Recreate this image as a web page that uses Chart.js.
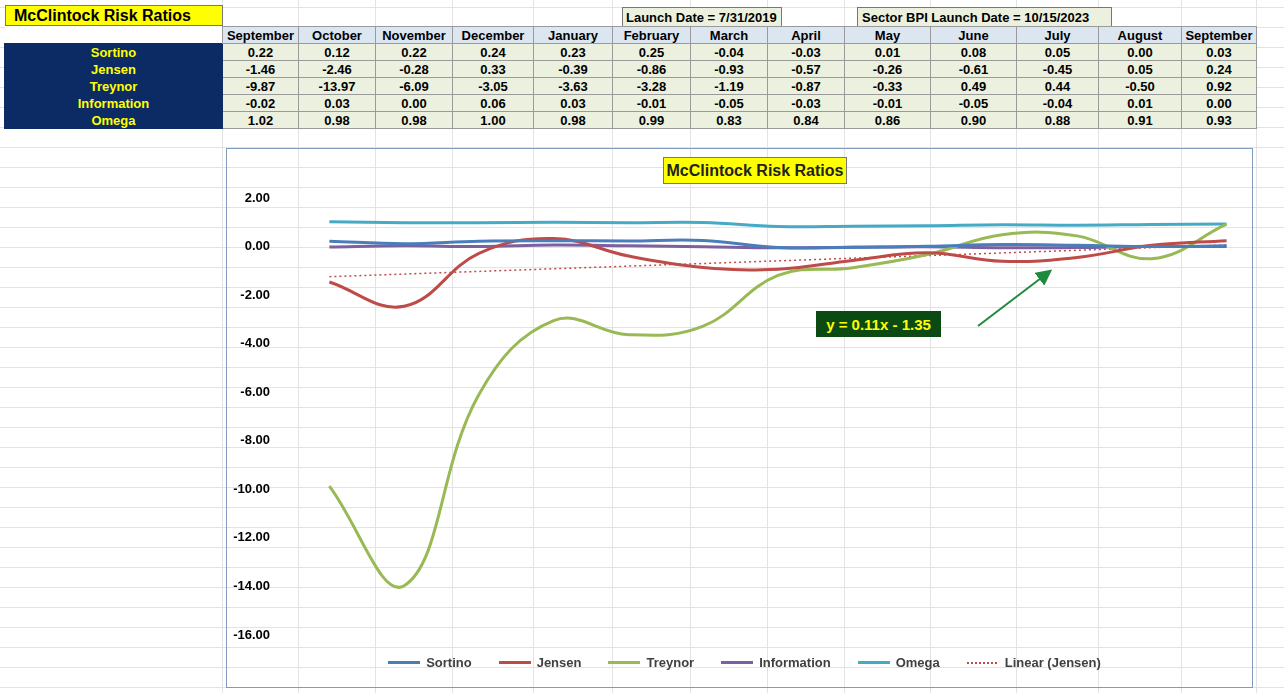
<!DOCTYPE html>
<html><head><meta charset="utf-8">
<script src="https://cdn.jsdelivr.net/npm/chart.js@4"></script>
<style>
body{margin:0;width:1284px;height:693px;position:relative;font-family:Arial,"Liberation Sans",sans-serif;overflow:hidden;
background-color:#fff;
background-image:linear-gradient(#e3e3e3 1px,transparent 1px);background-size:100% 20px;background-position:0 7px;}
.vl{position:absolute;top:0;height:693px;width:1px;background:#e3e3e3}
table{position:absolute;left:4px;top:26px;border-collapse:collapse;font-size:13px;font-weight:bold;table-layout:fixed}
td{border:1px solid #9a9a9a;height:16px;padding:0;text-align:center;background:#ebf1de;color:#000;overflow:hidden;white-space:nowrap}
td.lab{background:#0c2a63;color:#ffff00;border-color:#0c2a63}
tr.h td{background:#dce6f1}
tr.h td.blank{background:#fff;border:none}
.box{position:absolute;font-weight:bold;font-size:13px;border:1px solid #777;display:flex;align-items:center}
#wrap{position:absolute;left:226px;top:148px;width:1025px;height:538px;border:1px solid #7f9bc0}
#legend{position:absolute;left:0;top:506px;width:1025px;display:flex;justify-content:center;gap:27px;font-size:13px;font-weight:bold;color:#404040;padding-left:10px;box-sizing:border-box}
#legend span{display:flex;align-items:center;gap:6px}
#legend i{display:inline-block;width:32px;height:3px}
</style></head><body>
<script>
const months=["September","October","November","December","January","February","March","April","May","June","July","August","September"];
const sortino=[0.22,0.12,0.22,0.24,0.23,0.25,-0.04,-0.03,0.01,0.08,0.05,0.00,0.03];
const jensen=[-1.46,-2.46,-0.28,0.33,-0.39,-0.86,-0.93,-0.57,-0.26,-0.61,-0.45,0.05,0.24];
const treynor=[-9.87,-13.97,-6.09,-3.05,-3.63,-3.28,-1.19,-0.87,-0.33,0.49,0.44,-0.50,0.92];
const information=[-0.02,0.03,0.00,0.06,0.03,-0.01,-0.05,-0.03,-0.01,-0.05,-0.04,0.01,0.00];
const omega=[1.02,0.98,0.98,1.00,0.98,0.99,0.83,0.84,0.86,0.90,0.88,0.91,0.93];
const yTicks=[2,0,-2,-4,-6,-8,-10,-12,-14,-16];
</script>
<div id="vls"></div>
<div class="box" style="left:5px;top:5px;height:21px;background:#ffff00;font-size:16px;padding-left:8px;box-sizing:border-box;width:218px">McClintock Risk Ratios</div>
<div class="box" style="left:622px;top:7px;width:160px;height:20px;background:#ebf1de;padding-left:3px;box-sizing:border-box">Launch Date = 7/31/2019</div>
<div class="box" style="left:857px;top:7px;width:255px;height:20px;background:#ebf1de;padding-left:4px;box-sizing:border-box">Sector BPI Launch Date = 10/15/2023</div>
<table id="tbl"></table>
<div id="wrap">
<canvas id="c" width="1025" height="538"></canvas>
<div style="position:absolute;left:436px;top:8px;width:182px;height:25px;background:#ffff00;border:1px solid #777;font-weight:bold;font-size:16px;display:flex;align-items:center;justify-content:center;color:#222">McClintock Risk Ratios</div>
<div style="position:absolute;left:589px;top:162px;width:125px;height:26px;background:#0b4a12;color:#ffff00;font-weight:bold;font-size:15px;display:flex;align-items:center;justify-content:center">y = 0.11x - 1.35</div>
<svg style="position:absolute;left:0;top:0" width="1025" height="538"><defs><marker id="a" markerWidth="8" markerHeight="8" refX="6" refY="4" orient="auto"><path d="M0,0 L8,4 L0,8 z" fill="#1e8a3c"/></marker></defs><line x1="751" y1="177" x2="822" y2="123" stroke="#1e8a3c" stroke-width="2" marker-end="url(#a)"/></svg>
<div id="legend"></div>
</div>
<script>
const widths=[218,76,77,77,81,79,78,77,77,86,86,82,83,75];
let x=4;const vls=document.getElementById('vls');
for(const w of widths){x+=w;const d=document.createElement('div');d.className='vl';d.style.left=x+'px';vls.appendChild(d);}
const rows=[["Sortino",sortino],["Jensen",jensen],["Treynor",treynor],["Information",information],["Omega",omega]];
let h='<colgroup>'+widths.map(w=>'<col style="width:'+w+'px">').join('')+'</colgroup>';
h+='<tr class="h"><td class="blank"></td>'+months.map(m=>'<td>'+m+'</td>').join('')+'</tr>';
for(const [n,v] of rows){h+='<tr><td class="lab">'+n+'</td>'+v.map(a=>'<td>'+a.toFixed(2)+'</td>').join('')+'</tr>';}
document.getElementById('tbl').innerHTML=h;
const n=jensen.length;let sx=0,sy=0,sxy=0,sxx=0;
jensen.forEach((y,i)=>{const X=i+1;sx+=X;sy+=y;sxy+=X*y;sxx+=X*X;});
const m=(n*sxy-sx*sy)/(n*sxx-sx*sx),b=(sy-m*sx)/n;
const pts=a=>a.map((y,i)=>({x:i+1,y}));
const ser=[["Sortino",sortino,"#4a7ebb"],["Jensen",jensen,"#be4b48"],["Treynor",treynor,"#98b954"],["Information",information,"#7d60a0"],["Omega",omega,"#46aac5"]];
const ds=ser.map(([l,d,c])=>({label:l,data:pts(d),borderColor:c,borderWidth:3,pointRadius:0,tension:0.4}));
ds.push({label:"Linear (Jensen)",data:[{x:1,y:m+b},{x:13,y:13*m+b}],borderColor:"#be4b48",borderWidth:1.5,borderDash:[2,3],pointRadius:0});
new Chart(document.getElementById('c'),{type:'line',data:{datasets:ds},options:{responsive:false,animation:false,
layout:{padding:{top:49,bottom:52,left:0,right:3}},
plugins:{legend:{display:false},tooltip:{enabled:false}},
scales:{x:{type:'linear',min:0.5,max:13.3,display:false},
y:{min:-16,max:2,afterFit:s=>{s.width=65},afterBuildTicks:s=>{s.ticks=yTicks.map(v=>({value:v}))},
grid:{display:false},border:{display:false},ticks:{color:'#000',font:{weight:'bold',size:13,family:'Arial'},callback:v=>v.toFixed(2),padding:14}}}}});
document.getElementById('legend').innerHTML=ds.map(d=>'<span><i style="background:'+(d.borderDash?'repeating-linear-gradient(90deg,#be4b48 0 2px,transparent 2px 4px);height:2px':d.borderColor)+'"></i>'+d.label+'</span>').join('');
</script>
</body></html>
